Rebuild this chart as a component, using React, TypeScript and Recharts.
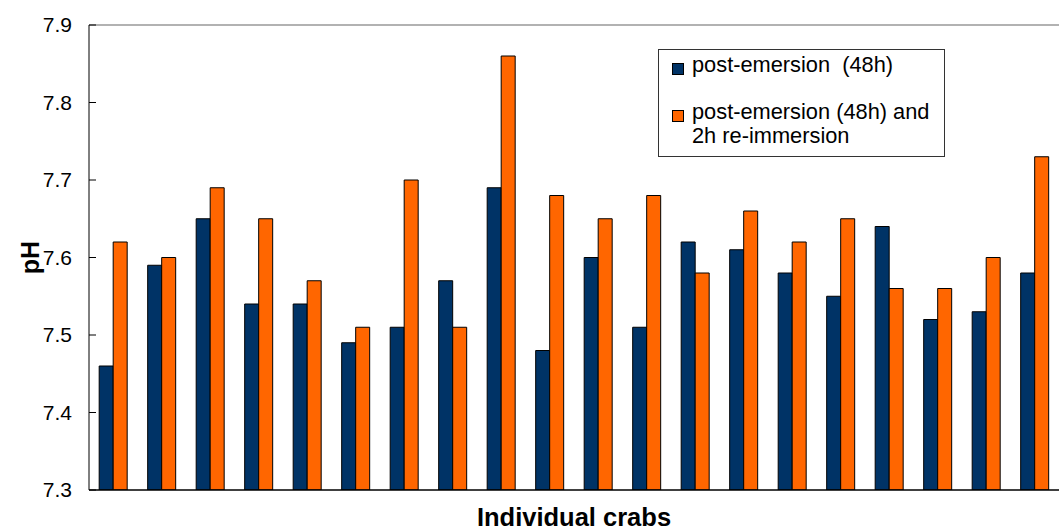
import React from 'react';
import { BarChart, Bar, XAxis, YAxis, ReferenceLine, Label } from 'recharts';

// individual crabs (x categories carry no tick labels)
const crabs = [
  'Crab 1', 'Crab 2', 'Crab 3', 'Crab 4', 'Crab 5', 'Crab 6', 'Crab 7', 'Crab 8', 'Crab 9', 'Crab 10',
  'Crab 11', 'Crab 12', 'Crab 13', 'Crab 14', 'Crab 15', 'Crab 16', 'Crab 17', 'Crab 18', 'Crab 19', 'Crab 20',
];

const postEmersion = [
  7.46, 7.59, 7.65, 7.54, 7.54, 7.49, 7.51, 7.57, 7.69, 7.48,
  7.60, 7.51, 7.62, 7.61, 7.58, 7.55, 7.64, 7.52, 7.53, 7.58,
];

const reImmersion = [
  7.62, 7.60, 7.69, 7.65, 7.57, 7.51, 7.70, 7.51, 7.86, 7.68,
  7.65, 7.68, 7.58, 7.66, 7.62, 7.65, 7.56, 7.56, 7.60, 7.73,
];

const yTicks = [7.3, 7.4, 7.5, 7.6, 7.7, 7.8, 7.9];

const seriesNames = ['post-emersion  (48h)', 'post-emersion (48h) and\n2h re-immersion'];
const seriesColors = ['#003366', '#FF6600'];

const data = crabs.map((name, i) => ({
  name,
  post: postEmersion[i],
  reim: reImmersion[i],
}));

const font = '"Liberation Sans", Arial, sans-serif';

const App = () => {
  return (
    <div style={{ position: 'absolute', left: 0, top: 0, width: 1059, height: 532, fontFamily: font }}>
      <BarChart
        width={1059}
        height={532}
        data={data}
        margin={{ top: 25, right: 0, left: 0, bottom: 0 }}
        barCategoryGap="21%"
        barGap={0}
      >
        <XAxis
          dataKey="name"
          tick={false}
          tickLine={false}
          axisLine={{ stroke: '#000', strokeWidth: 1.5 }}
          height={42}
        >
          <Label
            value="Individual crabs"
            position="insideBottom"
            offset={6}
            style={{ fontFamily: font, fontSize: 25.5, fontWeight: 'bold', fill: '#000' }}
          />
        </XAxis>
        <YAxis
          domain={[7.3, 7.9]}
          ticks={yTicks}
          allowDataOverflow
          width={89}
          tickSize={-7}
          tickMargin={24}
          tickFormatter={(v: number) => v.toFixed(1)}
          tick={{ fontFamily: font, fontSize: 21, fill: '#000' }}
          tickLine={{ stroke: '#000' }}
          axisLine={{ stroke: '#000' }}
        >
          <Label
            content={(props: any) => {
              const vb = props.viewBox || { x: 0, y: 0, width: 89, height: 465 };
              const cx = vb.x + 30;
              const cy = vb.y + vb.height / 2;
              return (
                <text
                  x={cx}
                  y={cy}
                  transform={`rotate(-90, ${cx}, ${cy})`}
                  textAnchor="middle"
                  dominantBaseline="central"
                  style={{ fontFamily: font, fontSize: 25, fontWeight: 'bold', fill: '#000' }}
                >
                  pH
                </text>
              );
            }}
          />
        </YAxis>
        <ReferenceLine y={7.9} stroke="#999" strokeWidth={1.5} ifOverflow="extendDomain" />
        <Bar dataKey="post" name={seriesNames[0]} fill={seriesColors[0]} stroke="#000" strokeWidth={1} isAnimationActive={false} />
        <Bar dataKey="reim" name={seriesNames[1]} fill={seriesColors[1]} stroke="#000" strokeWidth={1} isAnimationActive={false} />
      </BarChart>
      <div
        style={{
          position: 'absolute',
          left: 658,
          top: 49,
          width: 287,
          height: 108,
          border: '1px solid #333',
          background: '#fff',
          boxSizing: 'border-box',
        }}
      >
        {seriesNames.map((n, i) => (
          <div
            key={n}
            style={{
              position: 'absolute',
              left: 13,
              top: i === 0 ? 3 : 50,
              display: 'flex',
              alignItems: 'flex-start',
            }}
          >
            <span
              style={{
                display: 'inline-block',
                width: 12,
                height: 12,
                background: seriesColors[i],
                border: '1px solid #000',
                boxSizing: 'border-box',
                marginTop: 10,
                marginRight: 8,
              }}
            />
            <span style={{ fontSize: 21.8, lineHeight: '24px', whiteSpace: 'pre', color: '#000' }}>{n}</span>
          </div>
        ))}
      </div>
    </div>
  );
};

export default App;
